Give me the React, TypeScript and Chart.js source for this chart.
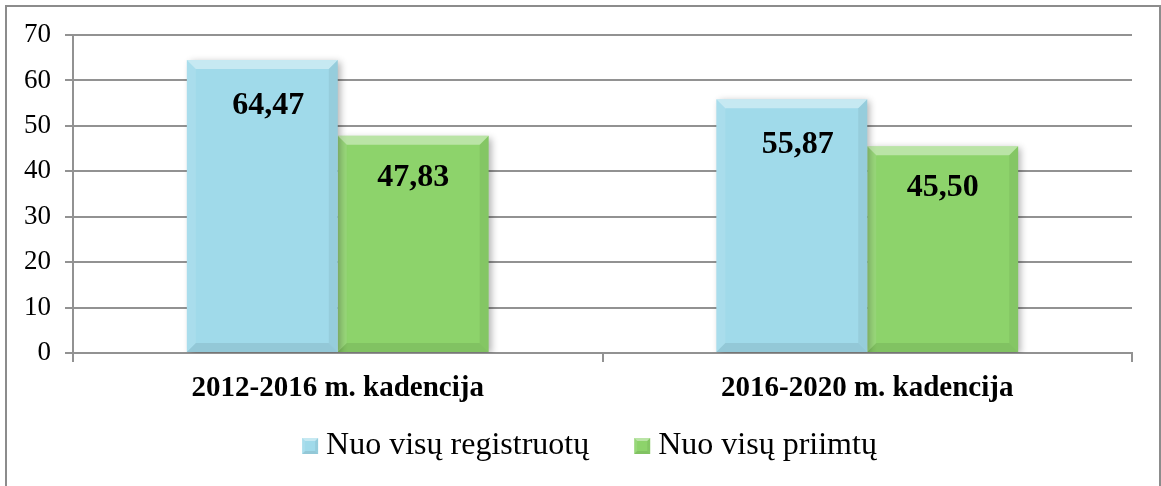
import React, { useEffect, useRef } from 'react';
import { Chart, registerables } from 'chart.js';

Chart.register(...registerables);

const categories = ['2012-2016 m. kadencija', '2016-2020 m. kadencija'];
const seriesNames = ['Nuo visų registruotų', 'Nuo visų priimtų'];
const registruotu = [64.47, 55.87];
const priimtu = [47.83, 45.5];
const yMin = 0;
const yMax = 70;
const yStep = 10;

const FONT = "'Liberation Serif', 'Times New Roman', serif";
const GRID = '#929292';
const COLORS = ['rgb(160,218,234)', 'rgb(141,211,107)'];
const LABEL_DY = [54, 50];
const LABEL_DX = [6, 0];
const BEVEL = 9;

const fmt = (v: number) => v.toFixed(2).replace('.', ',');

function poly(ctx: CanvasRenderingContext2D, pts: number[][], color: string) {
  ctx.beginPath();
  ctx.moveTo(pts[0][0], pts[0][1]);
  for (let i = 1; i < pts.length; i++) ctx.lineTo(pts[i][0], pts[i][1]);
  ctx.closePath();
  ctx.fillStyle = color;
  ctx.fill();
}

function bevel(ctx: CanvasRenderingContext2D, l: number, t: number, r: number, b: number, s: number) {
  poly(ctx, [[l, t], [r, t], [r - s, t + s], [l + s, t + s]], 'rgba(255,255,255,0.40)');
  poly(ctx, [[l, t], [l + s, t + s], [l + s, b - s], [l, b]], 'rgba(255,255,255,0.10)');
  poly(ctx, [[r, t], [r, b], [r - s, b - s], [r - s, t + s]], 'rgba(0,0,0,0.06)');
  poly(ctx, [[l, b], [r, b], [r - s, b - s], [l + s, b - s]], 'rgba(0,0,0,0.08)');
}

const decorPlugin = {
  id: 'decor',
  beforeDatasetsDraw(chart: any) {
    const ctx = chart.ctx;
    ctx.save();
    ctx.shadowColor = 'rgba(0,0,0,0.3)';
    ctx.shadowBlur = 7;
    ctx.shadowOffsetX = 3;
    ctx.shadowOffsetY = 2;
  },
  afterDatasetsDraw(chart: any) {
    const ctx = chart.ctx;
    ctx.restore();
    chart.data.datasets.forEach((ds: any, di: number) => {
      const meta = chart.getDatasetMeta(di);
      meta.data.forEach((bar: any, i: number) => {
        const w = bar.width;
        const l = bar.x - w / 2;
        const r = bar.x + w / 2;
        const t = bar.y;
        const b = bar.base;
        ctx.save();
        bevel(ctx, l, t, r, b, BEVEL);
        ctx.fillStyle = '#000';
        ctx.font = `bold 32px ${FONT}`;
        ctx.textAlign = 'center';
        ctx.textBaseline = 'alphabetic';
        ctx.fillText(fmt(ds.data[i]), bar.x + LABEL_DX[di], t + LABEL_DY[di]);
        ctx.restore();
      });
    });
  },
  afterDraw(chart: any) {
    const ctx = chart.ctx;
    ctx.save();
    // outer frame
    ctx.strokeStyle = '#8c8c8c';
    ctx.lineWidth = 2;
    ctx.strokeRect(6, 6, 1154, 600);
    // legend
    ctx.font = `32px ${FONT}`;
    const box = 16;
    const gapText = 8;
    const gapItem = 45;
    const items = chart.data.datasets.map((ds: any) => ({
      label: ds.label,
      color: ds.backgroundColor,
      w: ctx.measureText(ds.label).width,
    }));
    let total = 0;
    items.forEach((it: any, i: number) => {
      total += box + gapText + it.w + (i < items.length - 1 ? gapItem : 0);
    });
    let x = chart.width / 2 + 9 - total / 2;
    const cy = 446;
    items.forEach((it: any) => {
      ctx.fillStyle = it.color;
      ctx.fillRect(x, cy - box / 2, box, box);
      bevel(ctx, x, cy - box / 2, x + box, cy + box / 2, 3);
      ctx.fillStyle = '#000';
      ctx.textAlign = 'left';
      ctx.textBaseline = 'alphabetic';
      ctx.fillText(it.label, x + box + gapText, 454);
      x += box + gapText + it.w + gapItem;
    });
    ctx.restore();
  },
};

export default function App() {
  const ref = useRef<HTMLCanvasElement | null>(null);
  useEffect(() => {
    if (!ref.current) return;
    const chart = new Chart(ref.current, {
      type: 'bar',
      data: {
        labels: categories,
        datasets: [
          { label: seriesNames[0], data: registruotu, backgroundColor: COLORS[0], borderWidth: 0 },
          { label: seriesNames[1], data: priimtu, backgroundColor: COLORS[1], borderWidth: 0 },
        ],
      },
      options: {
        responsive: false,
        animation: false,
        devicePixelRatio: 1,
        layout: { padding: { top: 35, right: 29, bottom: 73, left: 0 } },
        datasets: { bar: { categoryPercentage: 0.57, barPercentage: 1 } },
        plugins: { legend: { display: false }, tooltip: { enabled: false } },
        scales: {
          x: {
            grid: { display: true, drawOnChartArea: false, drawTicks: true, tickLength: 9, color: GRID, lineWidth: 2, offset: true },
            border: { display: true, color: GRID, width: 2 },
            ticks: { font: { family: FONT, size: 29, weight: 'bold' }, color: '#000', padding: 9 },
            afterFit: (s: any) => { s.height = 60; },
          },
          y: {
            min: yMin,
            max: yMax,
            ticks: { stepSize: yStep, font: { family: FONT, size: 27 }, color: '#000', padding: 14 },
            grid: { color: GRID, lineWidth: 2, tickLength: 8 },
            border: { display: true, color: GRID, width: 2 },
            afterFit: (s: any) => { s.width = 73; },
          },
        },
      } as any,
      plugins: [decorPlugin],
    });
    return () => chart.destroy();
  }, []);
  return (
    <div style={{ position: 'absolute', left: 0, top: 0, width: 1161, height: 486, background: '#fff' }}>
      <canvas ref={ref} width={1161} height={486} style={{ display: 'block' }} />
    </div>
  );
}
